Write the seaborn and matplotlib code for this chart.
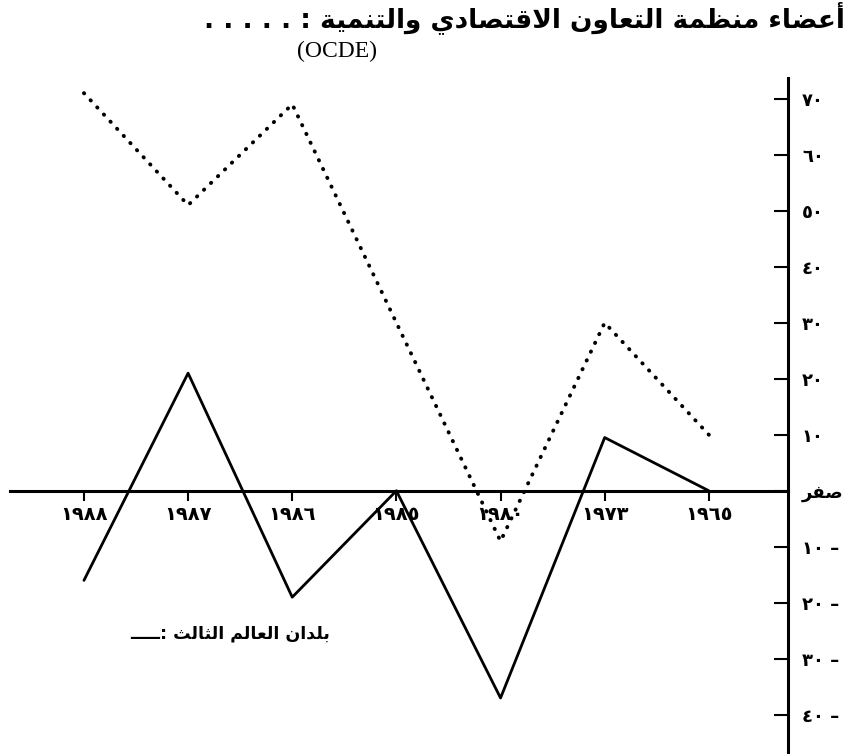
import matplotlib
matplotlib.use("Agg")
import matplotlib.pyplot as plt
import seaborn as sns
import pandas as pd

# ---------------- data ----------------
years = ["١٩٨٨", "١٩٨٧", "١٩٨٦", "١٩٨٥", "١٩٨٠", "١٩٧٣", "١٩٦٥"]
ocde_values = [71, 51, 69, 30, -9, 30, 10]
third_world_values = [-16, 21, -19, 0, -37, 9.5, 0]
y_ticks = [70, 60, 50, 40, 30, 20, 10, 0, -10, -20, -30, -40]
y_tick_labels = ["٧٠", "٦٠", "٥٠", "٤٠", "٣٠", "٢٠", "١٠", "صفر",
                 "١٠ –", "٢٠ –", "٣٠ –", "٤٠ –"]
title_text = "أعضاء منظمة التعاون الاقتصادي والتنمية"
title_sub = "(OCDE)"
legend_text = "بلدان العالم الثالث"

# ------------- minimal Arabic shaping (logical -> visual) -------------
FORMS = {
    '\u0621': ('\uFE80', None, None, None),
    '\u0623': ('\uFE83', '\uFE84', None, None),
    '\u0627': ('\uFE8D', '\uFE8E', None, None),
    '\u0628': ('\uFE8F', '\uFE90', '\uFE91', '\uFE92'),
    '\u0629': ('\uFE93', '\uFE94', None, None),
    '\u062A': ('\uFE95', '\uFE96', '\uFE97', '\uFE98'),
    '\u062B': ('\uFE99', '\uFE9A', '\uFE9B', '\uFE9C'),
    '\u062F': ('\uFEA9', '\uFEAA', None, None),
    '\u0631': ('\uFEAD', '\uFEAE', None, None),
    '\u0635': ('\uFEB9', '\uFEBA', '\uFEBB', '\uFEBC'),
    '\u0636': ('\uFEBD', '\uFEBE', '\uFEBF', '\uFEC0'),
    '\u0638': ('\uFEC5', '\uFEC6', '\uFEC7', '\uFEC8'),
    '\u0639': ('\uFEC9', '\uFECA', '\uFECB', '\uFECC'),
    '\u0641': ('\uFED1', '\uFED2', '\uFED3', '\uFED4'),
    '\u0642': ('\uFED5', '\uFED6', '\uFED7', '\uFED8'),
    '\u0644': ('\uFEDD', '\uFEDE', '\uFEDF', '\uFEE0'),
    '\u0645': ('\uFEE1', '\uFEE2', '\uFEE3', '\uFEE4'),
    '\u0646': ('\uFEE5', '\uFEE6', '\uFEE7', '\uFEE8'),
    '\u0648': ('\uFEED', '\uFEEE', None, None),
    '\u064A': ('\uFEF1', '\uFEF2', '\uFEF3', '\uFEF4'),
}
LAMALEF = {'\u0627': ('\uFEFB', '\uFEFC'), '\u0623': ('\uFEF7', '\uFEF8')}


def shape(text):
    out = []
    i, n = 0, len(text)
    while i < n:
        c = text[i]
        if c not in FORMS:
            out.append(c)
            i += 1
            continue
        prev = text[i - 1] if i > 0 else None
        pj = prev in FORMS and FORMS[prev][2] is not None
        if c == '\u0644' and i + 1 < n and text[i + 1] in LAMALEF:
            iso, fin = LAMALEF[text[i + 1]]
            out.append(fin if pj else iso)
            i += 2
            continue
        nxt = text[i + 1] if i + 1 < n else None
        nj = (nxt in FORMS and nxt != '\u0621' and FORMS[c][2] is not None)
        f = FORMS[c]
        if pj and f[1] is None:
            pj = False
        if pj and nj:
            out.append(f[3])
        elif pj:
            out.append(f[1])
        elif nj:
            out.append(f[2])
        else:
            out.append(f[0])
        i += 1
    return ''.join(out)


def rtl(text):
    """Shape Arabic letters and reverse only if the text contains letters."""
    if any(ch in FORMS for ch in text):
        return shape(text)[::-1]
    return text


# ---------------- plot ----------------
sns.set_style("white")
plt.rcParams['font.family'] = ['DejaVu Sans']
plt.rcParams['text.color'] = 'black'

fig = plt.figure(figsize=(8.49, 7.54), dpi=100)
ax = fig.add_axes([10 / 849, 0.0, 778 / 849, (754 - 78) / 754])

df_o = pd.DataFrame({"year": years, "value": ocde_values})
df_t = pd.DataFrame({"year": years, "value": third_world_values})

sns.lineplot(data=df_o, x="year", y="value", sort=False, ax=ax, color="black",
             linewidth=2.8, linestyle=(0, (0.1, 2.4)), dash_capstyle="round")
sns.lineplot(data=df_t, x="year", y="value", sort=False, ax=ax, color="black",
             linewidth=2.0)

ax.set_xlim(-0.71, 6.76)
ax.set_ylim(-47, 73.7)

for s in ["top", "left"]:
    ax.spines[s].set_visible(False)
ax.spines["bottom"].set_position(("data", 0))
ax.spines["bottom"].set_linewidth(2.2)
ax.spines["right"].set_linewidth(2.2)
ax.spines["bottom"].set_color("black")
ax.spines["right"].set_color("black")

ax.set_xticks(range(len(years)))
ax.set_xticklabels(years, fontsize=14, fontweight="bold")
ax.tick_params(axis="x", direction="out", length=7, width=1.5, pad=3,
               bottom=True, colors="black")

ylabels = [rtl(t) for t in y_tick_labels]
ax.yaxis.tick_right()
ax.set_yticks(y_ticks)
ax.set_yticklabels(ylabels, fontsize=13, fontweight="bold")
ax.tick_params(axis="y", direction="in", length=10, width=1.5, pad=10,
               right=True, left=False, colors="black")
ax.set_xlabel("")
ax.set_ylabel("")
ax.grid(False)

fig.text(845 / 849, 1 - 18 / 754, ". . . . . : " + rtl(title_text),
         ha="right", va="center", fontsize=19, fontweight="bold", color="black")
fig.text(337 / 849, 1 - 51 / 754, title_sub, ha="center", va="center",
         fontsize=17, family=["Liberation Serif"], color="black")
fig.text(330 / 849, 1 - 634 / 754, "ـــــ: " + rtl(legend_text),
         ha="right", va="center", fontsize=12.5, fontweight="bold", color="black")

fig.savefig("out.png", dpi=100)
